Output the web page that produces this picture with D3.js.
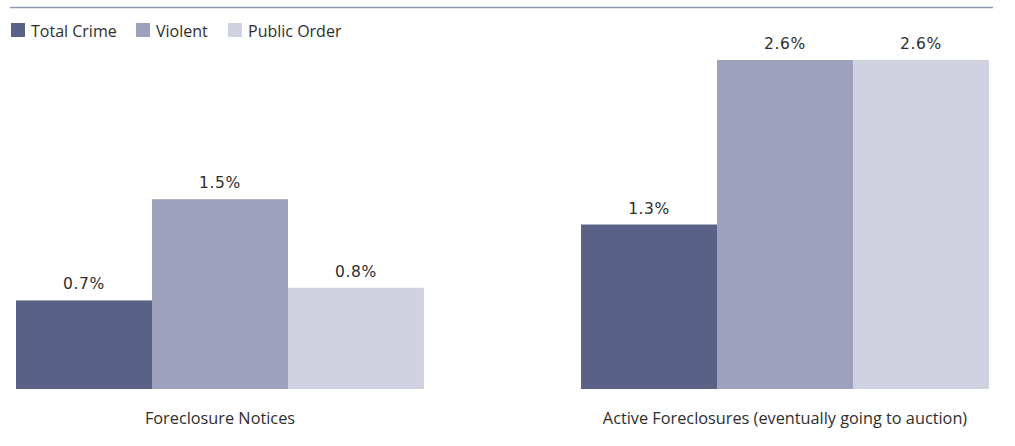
<!DOCTYPE html>
<meta charset="utf-8">
<script src="https://cdn.jsdelivr.net/npm/d3@7"></script>
<style>
  body { margin: 0; background: #fff; }
  text { fill: #2e2e2e; }
</style>
<svg></svg>
<script>
    var groups = ['Foreclosure Notices', 'Active Foreclosures (eventually going to auction)'];
    var series = ['Total Crime', 'Violent', 'Public Order'];
    var totalCrime = [0.7, 1.3];
    var violent = [1.5, 2.6];
    var publicOrder = [0.8, 2.6];
    var colors = ['#596187', '#9da1bd', '#d0d2e1'];

    var svg = d3.select('svg').attr('width', 1015).attr('height', 446);
    var values = [totalCrime, violent, publicOrder];

    var x0 = d3.scaleBand().domain(groups).range([16, 989]).paddingInner(0.278).paddingOuter(0);
    var x1 = d3.scaleBand().domain(series).range([0, x0.bandwidth()]);
    var y = d3.scaleLinear().domain([0, 2.6]).range([389, 60]);

    // top rule
    svg.append('line')
        .attr('x1', 10).attr('x2', 993)
        .attr('y1', 7.5).attr('y2', 7.5)
        .attr('stroke', '#8f96b8').attr('stroke-width', 1.5);

    // legend
    var legendX = [11, 136, 228];
    var legend = svg.selectAll('.legend').data(series).enter().append('g')
        .attr('class', 'legend')
        .attr('transform', (d, i) => 'translate(' + legendX[i] + ',23)');
    legend.append('rect')
        .attr('width', 14).attr('height', 14)
        .attr('fill', (d, i) => colors[i]);
    legend.append('text')
        .attr('x', 20).attr('y', 13.5)
        .style('font-family', 'Open Sans')
        .style('font-size', '16px')
        .text(d => d);

    var g = svg.selectAll('.group').data(groups).enter().append('g')
        .attr('class', 'group')
        .attr('transform', d => 'translate(' + x0(d) + ',0)');

    g.selectAll('rect')
        .data((d, gi) => series.map((s, si) => ({ s: s, si: si, v: values[si][gi] })))
        .enter().append('rect')
        .attr('x', d => x1(d.s))
        .attr('y', d => y(d.v))
        .attr('width', x1.bandwidth())
        .attr('height', d => y(0) - y(d.v))
        .attr('fill', d => colors[d.si]);

    g.selectAll('.val')
        .data((d, gi) => series.map((s, si) => ({ s: s, si: si, v: values[si][gi] })))
        .enter().append('text')
        .attr('class', 'val')
        .attr('x', d => x1(d.s) + x1.bandwidth() / 2)
        .attr('y', d => y(d.v) - 11)
        .attr('text-anchor', 'middle')
        .style('font-family', 'DejaVu Sans')
        .style('font-size', '15.5px')
        .style('letter-spacing', '0.6px')
        .text(d => d.v.toFixed(1) + '%');

    g.append('text')
        .attr('x', x0.bandwidth() / 2)
        .attr('y', 423.5)
        .attr('text-anchor', 'middle')
        .style('font-family', 'Open Sans')
        .style('font-size', '16.3px')
        .text(d => d);
</script>
